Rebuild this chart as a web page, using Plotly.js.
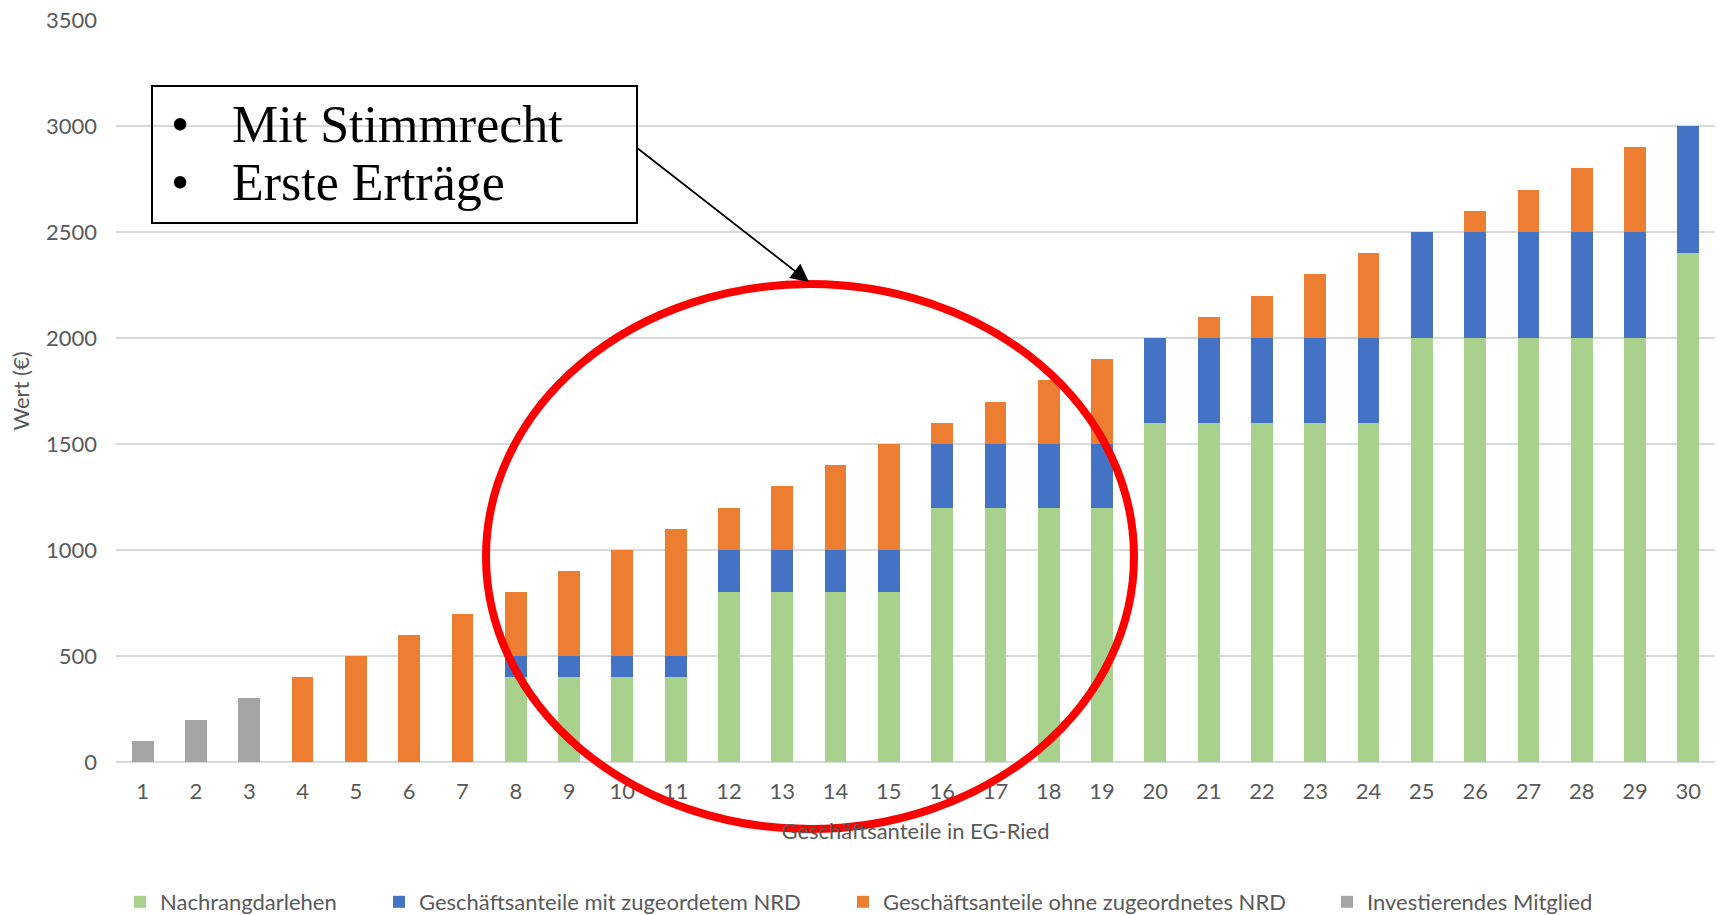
<!DOCTYPE html>
<html>
<head>
<meta charset="utf-8">
<script src="https://cdn.plot.ly/plotly-3.0.1.min.js"></script>
<style>
  html, body { margin: 0; padding: 0; background: #ffffff; }
  #chart { width: 1719px; height: 915px; }
</style>
</head>
<body>
<div id="chart"></div>
<script>
// ---- Data ----
const categories = ["1","2","3","4","5","6","7","8","9","10","11","12","13","14","15",
                    "16","17","18","19","20","21","22","23","24","25","26","27","28","29","30"];
const nachrangdarlehen = [0,0,0,0,0,0,0,400,400,400,400,800,800,800,800,
                          1200,1200,1200,1200,1600,1600,1600,1600,1600,2000,2000,2000,2000,2000,2400];
const mitNRD  = [0,0,0,0,0,0,0,100,100,100,100,200,200,200,200,
                 300,300,300,300,400,400,400,400,400,500,500,500,500,500,600];
const ohneNRD = [0,0,0,400,500,600,700,300,400,500,600,200,300,400,500,
                 100,200,300,400,0,100,200,300,400,0,100,200,300,400,0];
const investierend = [100,200,300,0,0,0,0,0,0,0,0,0,0,0,0,
                      0,0,0,0,0,0,0,0,0,0,0,0,0,0,0];
const seriesNames = ["Nachrangdarlehen", "Geschäftsanteile mit zugeordetem NRD",
                     "Geschäftsanteile ohne zugeordnetes NRD", "Investierendes Mitglied"];
const yTicks = [0,500,1000,1500,2000,2500,3000,3500];

// ---- Styling ----
const W = 1719, H = 915;
const M = {l: 116, r: 4, t: 20, b: 153};
const PW = W - M.l - M.r, PH = H - M.t - M.b;
const px = x => (x - M.l) / PW;          // pixel -> paper x
const py = y => (H - M.b - y) / PH;      // pixel -> paper y
const colors = ["#A9D18E", "#4472C4", "#ED7D31", "#A5A5A5"];
const gray = "#595959";
const sans = "Lato, 'Open Sans', 'Liberation Sans', sans-serif";
const serif = "'Liberation Serif', 'DejaVu Serif', serif";

const values = [nachrangdarlehen, mitNRD, ohneNRD, investierend];
const legendNames = ["legend", "legend2", "legend3", "legend4"];
const traces = values.map((v, i) => ({
  type: "bar",
  x: categories,
  y: v,
  name: seriesNames[i],
  marker: {color: colors[i], line: {width: 0}},
  legend: legendNames[i],
  hoverinfo: "skip"
}));

// legend entries positioned individually (container coordinates)
const legendSymbolX = [142, 401, 865, 1349];
const legendCfg = {};
legendNames.forEach((ln, i) => {
  legendCfg[ln] = {
    xref: "container", yref: "container",
    x: (legendSymbolX[i] - 22) / W, xanchor: "left",
    y: (H - 902) / H, yanchor: "middle",
    orientation: "h",
    font: {family: sans, size: 22, color: gray},
    bgcolor: "rgba(0,0,0,0)",
    borderwidth: 0
  };
});

const layout = Object.assign({
  width: W, height: H,
  margin: M,
  paper_bgcolor: "#ffffff",
  plot_bgcolor: "#ffffff",
  barmode: "stack",
  bargap: 0.59,
  showlegend: true,
  font: {family: sans, color: gray, size: 22},
  xaxis: {
    type: "category",
    showgrid: false,
    showline: false,
    zeroline: false,
    ticks: "",
    ticklabelstandoff: 14,
    tickfont: {family: sans, size: 22, color: gray},
    title: {text: "Geschäftsanteile in EG-Ried", font: {family: sans, size: 22, color: gray}, standoff: 20},
    automargin: false
  },
  yaxis: {
    range: [0, 3500],
    tickvals: yTicks,
    ticktext: yTicks.map(String),
    showgrid: true,
    gridcolor: "#D9D9D9",
    gridwidth: 2,
    zeroline: true,
    zerolinecolor: "#D9D9D9",
    zerolinewidth: 2,
    showline: false,
    ticks: "",
    ticklabelstandoff: 18,
    tickfont: {family: sans, size: 22, color: gray},
    title: {text: "Wert (€)", font: {family: sans, size: 22, color: gray}, standoff: 10},
    automargin: false
  },
  shapes: [
    { type: "rect", xref: "paper", yref: "paper", layer: "above",
      x0: px(152), x1: px(637), y0: py(223), y1: py(86),
      line: {color: "#000000", width: 2}, fillcolor: "rgba(0,0,0,0)" },
    { type: "circle", xref: "paper", yref: "paper", layer: "above",
      x0: px(486), x1: px(1134), y0: py(829), y1: py(284),
      line: {color: "#FF0000", width: 8}, fillcolor: "rgba(0,0,0,0)" }
  ],
  annotations: [
    { xref: "paper", yref: "paper", x: px(180), y: py(125), xanchor: "center", yanchor: "middle",
      text: "•", showarrow: false, font: {family: serif, size: 52, color: "#000000"} },
    { xref: "paper", yref: "paper", x: px(230), y: py(125), xanchor: "left", yanchor: "middle",
      text: "Mit Stimmrecht", showarrow: false, font: {family: serif, size: 52, color: "#000000"} },
    { xref: "paper", yref: "paper", x: px(180), y: py(182.5), xanchor: "center", yanchor: "middle",
      text: "•", showarrow: false, font: {family: serif, size: 52, color: "#000000"} },
    { xref: "paper", yref: "paper", x: px(230), y: py(182.5), xanchor: "left", yanchor: "middle",
      text: "Erste Erträge", showarrow: false, font: {family: serif, size: 52, color: "#000000"} },
    { xref: "paper", yref: "paper", x: px(809), y: py(282), text: "",
      showarrow: true, ax: 636 - 809, ay: 147 - 282,
      arrowhead: 2, arrowsize: 2, arrowwidth: 1.8, arrowcolor: "#000000", standoff: 0 }
  ]
}, legendCfg);

Plotly.newPlot("chart", traces, layout, {displayModeBar: false, staticPlot: true});
</script>
</body>
</html>
